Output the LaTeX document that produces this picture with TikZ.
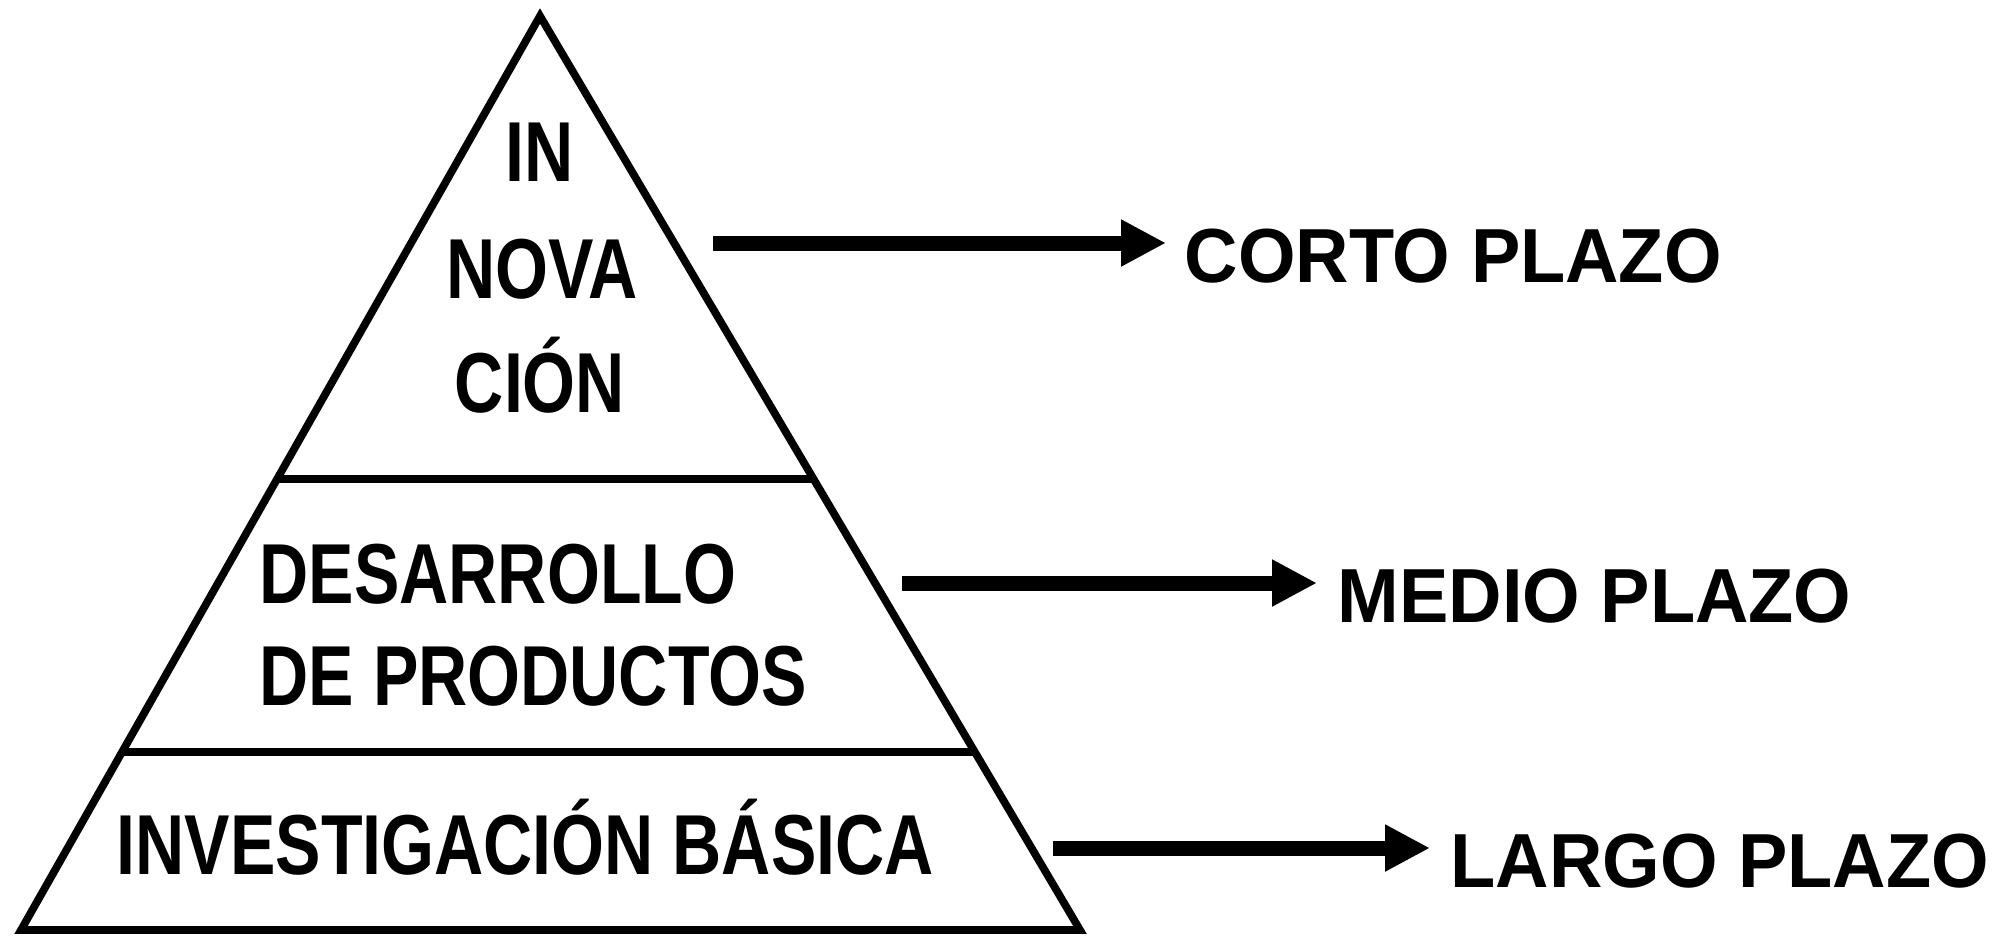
\documentclass[tikz,border=0pt]{standalone}
\usepackage{fontspec}
\setmainfont{Liberation Sans}
\newfontfamily\condfont{Liberation Sans}[FakeStretch=0.80]
\newfontfamily\labfont{Liberation Sans}[FakeStretch=0.965]
\usetikzlibrary{arrows.meta,calc}
\begin{document}
\begin{tikzpicture}[x=0.01cm,y=-0.01cm,
  tier/.style={inner sep=0pt, font=\condfont\bfseries\fontsize{24.2pt}{29pt}\selectfont},
  term/.style={inner sep=0pt, font=\labfont\bfseries\fontsize{21.8pt}{26pt}\selectfont},
  edge/.style={line width=2.2pt, line join=miter},
  divider/.style={line width=2.3pt},
  arr/.style={line width=4.27pt, -{Triangle[length=12.8pt,width=12.5pt]}}]
\fill[white] (0,0) rectangle (2013,936);
\useasboundingbox (0,0) rectangle (2013,936);
% pyramid
\coordinate (A) at (540,16);
\coordinate (L) at (21,930);
\coordinate (R) at (1080,930);
\draw[edge] (A) -- (L) -- (R) -- cycle;
\coordinate (d1l) at ($(A)!0.5066!(L)$);
\coordinate (d1r) at ($(A)!0.5066!(R)$);
\coordinate (d2l) at ($(A)!0.8053!(L)$);
\coordinate (d2r) at ($(A)!0.8053!(R)$);
\draw[divider] (d1l) -- (d1r);
\draw[divider] (d2l) -- (d2r);
% tier texts
\node[tier, anchor=base] (in) at (540,181) {IN};
\node[tier, anchor=base] (nova) at (542,298) {NOVA};
\node[tier, anchor=base] (cion) at (540,412) {CIÓN};
\node[tier, anchor=base west] (des) at (259,603) {DESARROLLO};
\node[tier, anchor=base west] (prod) at (259,705) {DE PRODUCTOS};
\node[tier, anchor=base west] (inv) at (116,874) {INVESTIGACIÓN BÁSICA};
% term labels
\node[term, anchor=base west] (corto) at (1184,282) {CORTO PLAZO};
\node[term, anchor=base west] (medio) at (1337,622) {MEDIO PLAZO};
\node[term, anchor=base west] (largo) at (1450,887) {LARGO PLAZO};
% arrows
\coordinate (s1) at (713,243);
\coordinate (t1) at (1166,243);
\coordinate (s2) at (902,583);
\coordinate (t2) at (1317,583);
\coordinate (s3) at (1053,848);
\coordinate (t3) at (1430,848);
\draw[arr] (s1) -- (t1);
\draw[arr] (s2) -- (t2);
\draw[arr] (s3) -- (t3);
\end{tikzpicture}
\end{document}
